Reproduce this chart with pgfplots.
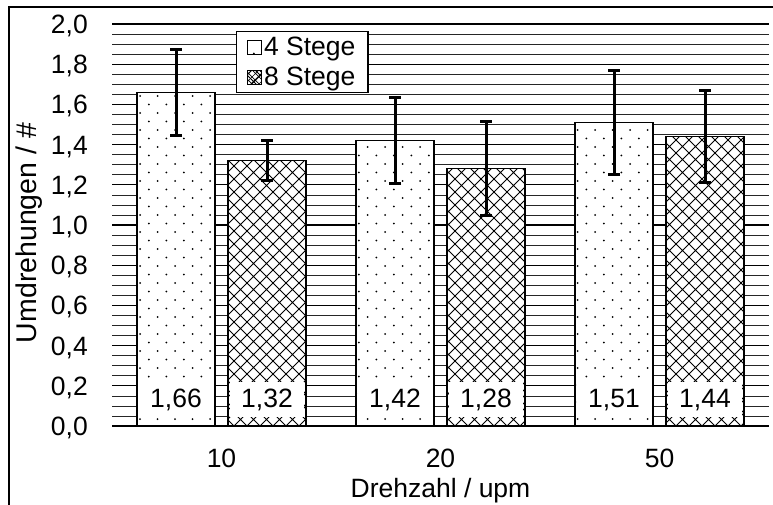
\documentclass[border=0pt]{standalone}
\usepackage{fontspec}
\setmainfont{Liberation Sans}
\usepackage{pgfplots}
\usepackage{pgfplotstable}
\pgfplotsset{compat=1.18}
\usetikzlibrary{patterns}

\pgfdeclarepatternformonly{sparsedots}{\pgfpoint{-2pt}{-2pt}}{\pgfpoint{19.5pt}{19pt}}{\pgfpoint{17.5pt}{17pt}}{%
  \pgfpathcircle{\pgfpoint{0pt}{0pt}}{1pt}%
  \pgfpathcircle{\pgfpoint{8.75pt}{8.5pt}}{1pt}%
  \pgfusepath{fill}}
\pgfdeclarepatternformonly{xhatch}{\pgfpoint{-1pt}{-1pt}}{\pgfpoint{14pt}{14pt}}{\pgfpoint{13pt}{13pt}}{%
  \pgfsetlinewidth{0.9pt}%
  \pgfpathmoveto{\pgfpoint{0pt}{0pt}}\pgfpathlineto{\pgfpoint{13pt}{13pt}}%
  \pgfpathmoveto{\pgfpoint{0pt}{13pt}}\pgfpathlineto{\pgfpoint{13pt}{0pt}}%
  \pgfusepath{stroke}}
\pgfdeclarepatternformonly{xhatchsmall}{\pgfpoint{-1pt}{-1pt}}{\pgfpoint{8pt}{8pt}}{\pgfpoint{7pt}{7pt}}{%
  \pgfsetlinewidth{0.7pt}%
  \pgfpathmoveto{\pgfpoint{0pt}{0pt}}\pgfpathlineto{\pgfpoint{7pt}{7pt}}%
  \pgfpathmoveto{\pgfpoint{0pt}{7pt}}\pgfpathlineto{\pgfpoint{7pt}{0pt}}%
  \pgfusepath{stroke}}

\pgfplotstableread{
x y err
0 1.66 0.215
1 1.42 0.215
2 1.51 0.26
}\vierstege
\pgfplotstableread{
x y err
0 1.32 0.10
1 1.28 0.235
2 1.44 0.23
}\achtstege

\begin{document}
\begin{tikzpicture}[font=\fontsize{26.5}{31}\selectfont]
\begin{axis}[
  scale only axis, width=657pt, height=402pt,
  at={(112pt,78pt)}, anchor=south west,
  font=\fontsize{26.5}{31}\selectfont,
  xmin=-0.5, xmax=2.5, ymin=0, ymax=2,
  xtick={0,1,2}, xticklabels={10,20,50},
  ytick={0,0.2,0.4,0.6,0.8,1.0,1.2,1.4,1.6,1.8,2.0},
  minor y tick num=3,
  ymajorgrids, yminorgrids,
  major grid style={black, line width=1.2pt},
  minor grid style={black!85, line width=0.7pt},
  major tick length=0pt, minor tick length=0pt,
  separate axis lines,
  x axis line style={line width=1.5pt},
  y axis line style={draw=none},
  yticklabel style={anchor=base east, inner sep=0pt, xshift=-24pt, yshift=-9.5pt,
    /pgf/number format/.cd, fixed, fixed zerofill, precision=1, use comma, assume math mode=true},
  xticklabel style={anchor=base, inner sep=0pt, yshift=-41pt},
  xlabel={Drehzahl / upm},
  ylabel={Umdrehungen / \#},
  xlabel style={at={(axis description cs:0.5,-0.1791)}, anchor=base, inner sep=0pt},
  ylabel style={at={(axis description cs:-0.11416,0.48)}, anchor=base, inner sep=0pt,
    font=\fontsize{28.5}{33}\selectfont},
  ybar=13pt, bar width=78pt,
  legend cell align=left,
  legend style={at={(axis description cs:0.1887,0.9826)}, anchor=north west,
    draw=black, line width=1.2pt, fill=white, inner xsep=10pt, inner ysep=3pt,
    row sep=5pt, nodes={inner sep=2.5pt}},
  visualization depends on={rawy \as \rawy},
  nodes near coords={\pgfmathprintnumber[fixed, fixed zerofill, precision=2, use comma, assume math mode=true]{\pgfplotspointmeta}},
  every node near coord/.append style={fill=white, inner xsep=11pt, inner ysep=0pt,
    minimum height=35pt, anchor=center, yshift={(0.13-\rawy)*201pt}},
]
\addplot[draw=black, line width=1.3pt, fill=white, postaction={pattern=sparsedots},
  legend image code/.code={\draw[line width=1pt, fill=white] (0pt,-7pt) rectangle (14pt,7pt);},
  error bars/.cd, y dir=both, y explicit,
  error bar style={line width=3pt, black},
  error mark options={rotate=90, mark size=6pt, line width=3pt, black}]
  table[x=x, y=y, y error=err]{\vierstege};
\addlegendentry{4 Stege}
\addplot[draw=black, line width=1.3pt, fill=white, postaction={pattern=xhatch},
  legend image code/.code={\draw[line width=1pt, fill=white, postaction={pattern=xhatchsmall}] (0pt,-7pt) rectangle (14pt,7pt);},
  error bars/.cd, y dir=both, y explicit,
  error bar style={line width=3pt, black},
  error mark options={rotate=90, mark size=6pt, line width=3pt, black}]
  table[x=x, y=y, y error=err]{\achtstege};
\addlegendentry{8 Stege}
\end{axis}
\draw[line width=1.5pt] (9pt,-10pt) -- (9pt,497pt) -- (790pt,497pt);
\pgfresetboundingbox
\useasboundingbox (0,0) rectangle (773pt,504pt);
\end{tikzpicture}
\end{document}
